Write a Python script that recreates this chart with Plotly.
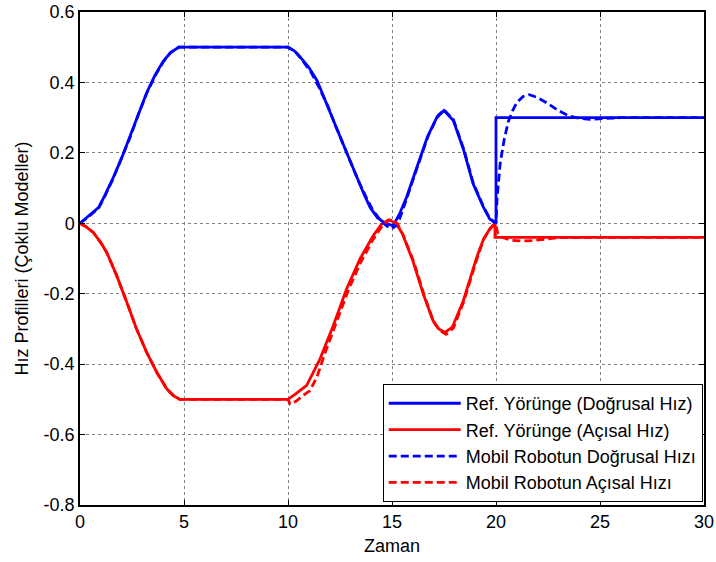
import plotly.graph_objects as go

# ---- Data ----
t_lin_ref = [0, 0.45, 0.9, 1.2, 1.6, 2.0, 2.4, 2.8, 3.2, 3.6, 4.0, 4.35, 4.75, 10.0, 10.3, 10.6, 11.0, 11.4,
             11.8, 12.2, 12.65, 13.0, 13.3, 13.65, 13.95, 14.3, 14.6, 15.05, 15.35, 15.7, 16.2, 16.7, 17.15,
             17.5, 17.95, 18.45, 18.9, 19.4, 19.7, 20.0, 20.0, 30.0]
v_lin_ref = [0, 0.022, 0.045, 0.08, 0.13, 0.185, 0.245, 0.31, 0.37, 0.42, 0.46, 0.485, 0.5, 0.5, 0.49, 0.471,
             0.443, 0.405, 0.35, 0.29, 0.225, 0.175, 0.13, 0.083, 0.045, 0.016, 0.003, -0.007, 0.025, 0.074,
             0.16, 0.245, 0.3, 0.32, 0.292, 0.207, 0.112, 0.045, 0.012, 0.0, 0.3, 0.3]

t_ang_ref = [0, 0.3, 0.64, 1.0, 1.28, 1.76, 2.25, 2.72, 3.2, 3.69, 4.17, 4.5, 4.8, 10.0, 10.4, 10.9, 11.54,
             12.18, 12.82, 13.46, 14.1, 14.5, 14.85, 15.2, 15.5, 16.0, 16.5, 16.97, 17.25, 17.55, 17.9,
             18.43, 19.07, 19.4, 19.7, 19.95, 19.95, 30.0]
v_ang_ref = [0, -0.01, -0.026, -0.055, -0.082, -0.148, -0.224, -0.3, -0.366, -0.423, -0.47, -0.49, -0.5,
             -0.5, -0.483, -0.46, -0.385, -0.29, -0.186, -0.101, -0.035, -0.002, 0.01, 0.0, -0.03, -0.106,
             -0.2, -0.276, -0.3, -0.31, -0.295, -0.22, -0.097, -0.045, -0.016, 0.0, -0.04, -0.04]

t_lin_mob = [0, 0.45, 0.9, 1.2, 1.6, 2.0, 2.4, 2.8, 3.2, 3.6, 4.0, 4.35, 4.75, 10.0, 10.35, 10.7, 11.1, 11.5,
             11.9, 12.3, 12.75, 13.1, 13.4, 13.75, 14.05, 14.4, 14.75, 15.0, 15.25, 15.5, 15.8, 16.25, 16.75,
             17.2, 17.5, 17.95, 18.45, 18.9, 19.4, 19.7, 20.0, 20.05, 20.2, 20.4, 20.6, 20.8, 21.0, 21.3,
             21.6, 22.0, 22.5, 23.0, 23.5, 24.0, 24.5, 25.0, 25.5, 26.0, 30.0]
v_lin_mob = [0, 0.02, 0.044, 0.078, 0.128, 0.183, 0.243, 0.308, 0.368, 0.418, 0.458, 0.484, 0.5, 0.5, 0.488,
             0.462, 0.43, 0.385, 0.335, 0.275, 0.21, 0.16, 0.118, 0.075, 0.04, 0.012, -0.008, -0.015, -0.005,
             0.035, 0.085, 0.165, 0.25, 0.305, 0.322, 0.295, 0.21, 0.115, 0.047, 0.014, 0.0, 0.07, 0.17,
             0.24, 0.29, 0.32, 0.343, 0.36, 0.365, 0.357, 0.34, 0.32, 0.305, 0.298, 0.295, 0.296, 0.299,
             0.3, 0.3]

t_ang_mob = [0, 0.3, 0.64, 1.0, 1.28, 1.76, 2.25, 2.72, 3.2, 3.69, 4.17, 4.5, 4.8, 10.0, 10.1, 10.4, 10.7,
             11.06, 11.4, 11.8, 12.3, 12.9, 13.5, 14.1, 14.5, 14.8, 15.0, 15.25, 15.55, 16.05, 16.55, 17.0,
             17.3, 17.6, 17.95, 18.45, 19.1, 19.4, 19.7, 19.95, 20.1, 20.3, 20.7, 21.2, 21.8, 22.3, 23.0,
             24.0, 30.0]
v_ang_mob = [0, -0.01, -0.026, -0.055, -0.082, -0.148, -0.224, -0.3, -0.366, -0.423, -0.47, -0.49, -0.5,
             -0.5, -0.513, -0.505, -0.49, -0.475, -0.435, -0.365, -0.285, -0.19, -0.11, -0.045, -0.01, 0.008,
             0.01, 0.0, -0.035, -0.11, -0.205, -0.28, -0.305, -0.315, -0.298, -0.222, -0.098, -0.046, -0.017,
             0.0, -0.03, -0.04, -0.048, -0.05, -0.049, -0.045, -0.041, -0.04, -0.04]

series_names = ["Ref. Yörünge (Doğrusal Hız)", "Ref. Yörünge (Açısal Hız)",
                "Mobil Robotun Doğrusal Hızı", "Mobil Robotun Açısal Hızı"]

x_ticks = [0, 5, 10, 15, 20, 25, 30]
x_ticktext = ["0", "5", "10", "15", "20", "25", "30"]
y_ticks = [0.6, 0.4, 0.2, 0, -0.2, -0.4, -0.6, -0.8]
y_ticktext = ["0.6", "0.4", "0.2", "0", "-0.2", "-0.4", "-0.6", "-0.8"]

x_title = "Zaman"
y_title = "Hız Profilleri (Çoklu Modeller)"

FONT = "Liberation Sans, Arial, sans-serif"
FS = 18
BLUE = "#0000FF"
RED = "#FF0000"
LW = 2.8
DASH = "8px,4px"

fig = go.Figure()
fig.add_trace(go.Scatter(x=t_lin_ref, y=v_lin_ref, mode="lines", name=series_names[0], legendgroup="a",
                         line=dict(color=BLUE, width=LW)))
fig.add_trace(go.Scatter(x=t_ang_ref, y=v_ang_ref, mode="lines", name=series_names[1], legendgroup="b",
                         line=dict(color=RED, width=LW)))
fig.add_trace(go.Scatter(x=t_lin_mob, y=v_lin_mob, mode="lines", name=series_names[2], legendgroup="c",
                         line=dict(color=BLUE, width=LW, dash=DASH)))
fig.add_trace(go.Scatter(x=t_ang_mob, y=v_ang_mob, mode="lines", name=series_names[3], legendgroup="d",
                         line=dict(color=RED, width=LW, dash=DASH)))

axis_common = dict(showgrid=True, gridcolor="#808080", griddash="dot", gridwidth=1,
                   showline=True, linecolor="black", linewidth=1.5, mirror="ticks",
                   ticks="inside", ticklen=5, tickcolor="black", tickwidth=1, zeroline=False,
                   automargin=False,
                   tickfont=dict(family=FONT, size=FS, color="black"))

fig.update_layout(
    width=716, height=562,
    margin=dict(l=80, r=12, t=12, b=57),
    paper_bgcolor="white", plot_bgcolor="white",
    font=dict(family=FONT, size=FS, color="black"),
    xaxis=dict(range=[0, 30], tickvals=x_ticks, ticktext=x_ticktext,
               title=dict(text=x_title, font=dict(family=FONT, size=FS), standoff=8), **axis_common),
    yaxis=dict(range=[-0.8, 0.6], tickvals=y_ticks, ticktext=y_ticktext,
               title=dict(text=y_title, font=dict(family=FONT, size=FS), standoff=10), **axis_common),
    legend=dict(x=0.998, y=0.006, xanchor="right", yanchor="bottom",
                bgcolor="white", bordercolor="black", borderwidth=1,
                font=dict(family=FONT, size=FS, color="black"),
                tracegroupgap=0, itemwidth=72),
    showlegend=True,
)

fig.write_html("out.html")
